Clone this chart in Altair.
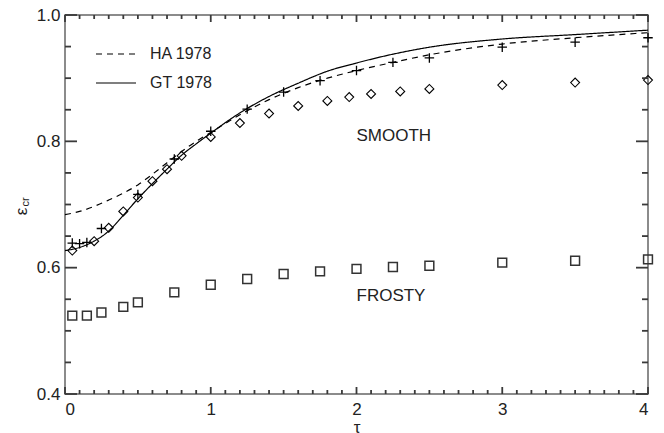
import altair as alt
import pandas as pd

FONT = "Liberation Sans"

# Model curves
curve_tau = [0, 0.1, 0.2, 0.3, 0.4, 0.5, 0.6, 0.7, 0.8, 0.9, 1.0, 1.2, 1.4, 1.6, 1.8, 2.0, 2.25, 2.5, 3.0, 3.5, 4.0]
ha_eps = [0.684, 0.689, 0.697, 0.707, 0.718, 0.731, 0.748, 0.766, 0.784, 0.800, 0.814, 0.842, 0.866, 0.885, 0.900, 0.912, 0.925, 0.937, 0.954, 0.964, 0.972]
gt_eps = [0.627, 0.632, 0.642, 0.658, 0.683, 0.709, 0.733, 0.756, 0.778, 0.796, 0.813, 0.845, 0.871, 0.892, 0.911, 0.924, 0.938, 0.949, 0.962, 0.969, 0.976]

# SMOOTH, crosses
cross_tau = [0.05, 0.1, 0.15, 0.25, 0.5, 0.75, 1.0, 1.25, 1.5, 1.75, 2.0, 2.25, 2.5, 3.0, 3.5, 4.0]
cross_eps = [0.639, 0.638, 0.640, 0.662, 0.716, 0.772, 0.816, 0.851, 0.878, 0.896, 0.912, 0.925, 0.932, 0.949, 0.957, 0.964]

# SMOOTH, diamonds
diam_tau = [0.05, 0.2, 0.3, 0.4, 0.5, 0.6, 0.7, 0.8, 1.0, 1.2, 1.4, 1.6, 1.8, 1.95, 2.1, 2.3, 2.5, 3.0, 3.5, 4.0]
diam_eps = [0.627, 0.642, 0.663, 0.689, 0.711, 0.737, 0.756, 0.777, 0.807, 0.829, 0.844, 0.856, 0.864, 0.870, 0.875, 0.879, 0.883, 0.889, 0.893, 0.897]

# FROSTY, squares
sq_tau = [0.05, 0.15, 0.25, 0.4, 0.5, 0.75, 1.0, 1.25, 1.5, 1.75, 2.0, 2.25, 2.5, 3.0, 3.5, 4.0]
sq_eps = [0.524, 0.524, 0.529, 0.538, 0.545, 0.561, 0.573, 0.582, 0.590, 0.594, 0.598, 0.601, 0.603, 0.608, 0.611, 0.613]

# Annotations
note_text = ["SMOOTH", "FROSTY"]
note_tau = [2.0, 2.0]
note_eps = [0.809, 0.555]

models = ["HA 1978", "GT 1978"]
x_major = [0, 1, 2, 3, 4]
x_minor = [round(i * 0.1, 1) for i in range(41) if i % 10 != 0]
y_major = [0.4, 0.6, 0.8, 1.0]
y_minor = [round(0.4 + i * 0.05, 2) for i in range(13) if i % 4 != 0]

W, H = 583, 379
TICK = "#3a3a3a"

n = len(curve_tau)
lines_df = pd.DataFrame({
    "tau": curve_tau * 2,
    "eps": ha_eps + gt_eps,
    "model": [models[0]] * n + [models[1]] * n,
})
cross_df = pd.DataFrame({"tau": cross_tau, "eps": cross_eps})
diam_df = pd.DataFrame({"tau": diam_tau, "eps": diam_eps})
sq_df = pd.DataFrame({"tau": sq_tau, "eps": sq_eps})
note_df = pd.DataFrame({"tau": note_tau, "eps": note_eps, "text": note_text})

xs = alt.Scale(domain=[0, 4], nice=False, zero=False)
ys = alt.Scale(domain=[0.4, 1.0], nice=False, zero=False)

lines = alt.Chart(lines_df).mark_line(color="black", strokeWidth=1.2, interpolate="monotone").encode(
    x=alt.X("tau:Q", scale=xs, axis=alt.Axis(
        orient="bottom", values=x_major, format="d", ticks=False, domain=False, grid=False,
        labelFontSize=17, labelPadding=7, labelColor="#222", labelFont=FONT,
        title="τ", titleFontSize=17, titleFontWeight="normal", titleColor="#222", titleFont=FONT,
        titleX=291.5, titleY=38, titleBaseline="alphabetic", titleAlign="center")),
    y=alt.Y("eps:Q", scale=ys, axis=alt.Axis(
        orient="left", values=y_major, format=".1f", ticks=False, domain=False, grid=False,
        labelFontSize=17, labelPadding=5, labelColor="#222", labelFont=FONT,
        title="ε", titleFontSize=17, titleFontWeight="normal", titleColor="#222", titleFont=FONT,
        titleAngle=-90, titleX=-44, titleY=196, titleAlign="center", titleBaseline="middle")),
    strokeDash=alt.StrokeDash("model:N", scale=alt.Scale(domain=models, range=[[6, 5], [1, 0]]),
        legend=alt.Legend(title=None, orient="none", legendX=30, legendY=18,
                          symbolType="stroke", symbolSize=1600, symbolStrokeWidth=1.2,
                          symbolStrokeColor="black", labelFontSize=16, labelFont=FONT,
                          labelColor="#222", labelOffset=13, rowPadding=0)),
)

# subscript of the y title
sub = alt.Chart(pd.DataFrame({"s": ["cr"]})).mark_text(
    angle=270, fontSize=11, font=FONT, color="#222", align="center", baseline="middle"
).encode(x=alt.value(-39), y=alt.value(187), text="s:N")

# inward ticks on all four sides, positioned by the scales
xt_major = pd.DataFrame({"tau": x_major})
xt_minor = pd.DataFrame({"tau": x_minor})
yt_major = pd.DataFrame({"eps": y_major})
yt_minor = pd.DataFrame({"eps": y_minor})

def xticks(df, y0, y1):
    return alt.Chart(df).mark_rule(color=TICK, strokeWidth=1.8).encode(
        x=alt.X("tau:Q", scale=xs), y=alt.value(y0), y2=alt.value(y1))

def yticks(df, x0, x1):
    return alt.Chart(df).mark_rule(color=TICK, strokeWidth=1.8).encode(
        y=alt.Y("eps:Q", scale=ys), x=alt.value(x0), x2=alt.value(x1))

ticks = [
    xticks(xt_major, H, H - 7), xticks(xt_minor, H, H - 4),
    xticks(xt_major, 0, 7), xticks(xt_minor, 0, 4),
    yticks(yt_major, 0, 12), yticks(yt_minor, 0, 6),
    yticks(yt_major, W, W - 12), yticks(yt_minor, W, W - 6),
]

crosses = alt.Chart(cross_df).mark_point(
    shape="M-1,0L1,0M0,-1L0,1", size=90, filled=False, color="black", strokeWidth=1.3, opacity=1
).encode(x=alt.X("tau:Q", scale=xs), y=alt.Y("eps:Q", scale=ys))

diamonds = alt.Chart(diam_df).mark_point(
    shape="diamond", size=80, filled=False, color="black", strokeWidth=1.1, opacity=1
).encode(x=alt.X("tau:Q", scale=xs), y=alt.Y("eps:Q", scale=ys))

squares = alt.Chart(sq_df).mark_point(
    shape="square", size=78, filled=False, color="#333", strokeWidth=1.5, opacity=1
).encode(x=alt.X("tau:Q", scale=xs), y=alt.Y("eps:Q", scale=ys))

notes = alt.Chart(note_df).mark_text(
    align="left", baseline="middle", fontSize=17, font=FONT, color="#222"
).encode(x=alt.X("tau:Q", scale=xs), y=alt.Y("eps:Q", scale=ys), text="text:N")

chart = alt.layer(lines, diamonds, crosses, squares, notes, sub, *ticks).properties(
    width=W, height=H,
    padding={"left": 65, "top": 15, "right": 16, "bottom": 39},
    autosize=alt.AutoSizeParams(type="none"),
    background="white",
).configure_view(stroke="#666", strokeWidth=1.5).configure_axis(
    grid=False, labelFont=FONT, titleFont=FONT
)

chart.save("out.html", embed_options={"renderer": "svg", "actions": False})
